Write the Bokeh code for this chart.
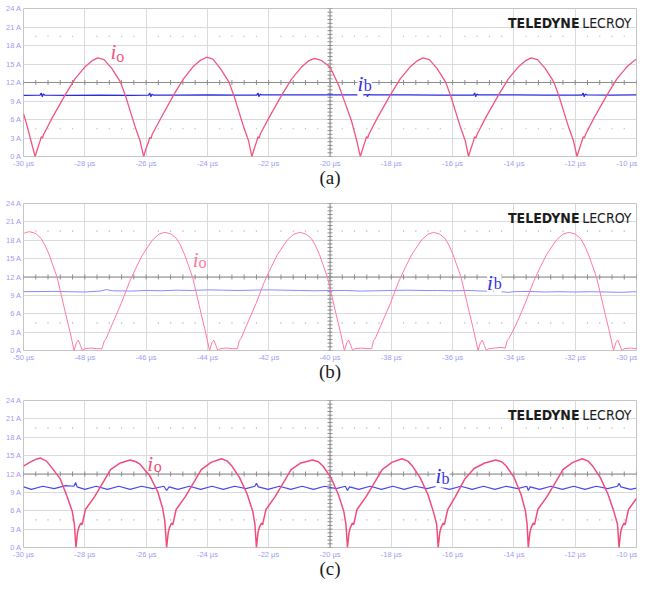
import numpy as np
from bokeh.plotting import figure
from bokeh.models import Range1d, Span, Label, FixedTicker, PrintfTickFormatter
from bokeh.layouts import column
from bokeh.embed import file_html
from bokeh.resources import INLINE

# ---------------- data ----------------
Y_TICKS = [0, 3, 6, 9, 12, 15, 18, 21, 24]
A_X_TICKS = [-30, -28, -26, -24, -22, -20, -18, -16, -14, -12, -10]
B_X_TICKS = [-50, -48, -46, -44, -42, -40, -38, -36, -34, -32, -30]
C_X_TICKS = [-30, -28, -26, -24, -22, -20, -18, -16, -14, -12, -10]
CAPTIONS = ["(a)", "(b)", "(c)"]

# panel (a) output current i_o  (t in us, A)
a_io = [(-30.00, 6.95), (-29.90, 5.3), (-29.78, 3.0), (-29.62, 0.0),
        (-29.54, 1.3), (-29.46, 2.5), (-29.42, 3.2), (-29.38, 3.0), (-29.34, 3.6), (-29.06, 6.3), (-28.64, 10.0),
        (-28.32, 12.6), (-28.00, 14.5), (-27.77, 15.5), (-27.58, 16.0), (-27.37, 15.7), (-27.12, 14.3), (-26.84, 12.1),
        (-26.67, 9.8), (-26.52, 7.4), (-26.37, 5.0), (-26.20, 2.6), (-26.08, 0.0),
        (-26.00, 1.3), (-25.92, 2.4), (-25.88, 3.1), (-25.84, 2.9), (-25.80, 3.6), (-25.52, 6.2), (-25.10, 10.0),
        (-24.78, 12.6), (-24.46, 14.6), (-24.23, 15.6), (-24.03, 16.1), (-23.82, 15.8), (-23.58, 14.3), (-23.30, 12.1),
        (-23.13, 9.8), (-22.98, 7.4), (-22.83, 5.0), (-22.66, 2.6), (-22.55, 0.0),
        (-22.47, 1.3), (-22.39, 2.5), (-22.35, 3.2), (-22.31, 3.0), (-22.27, 3.7), (-21.99, 6.3), (-21.57, 10.0),
        (-21.25, 12.6), (-20.93, 14.5), (-20.70, 15.5), (-20.50, 15.9), (-20.29, 15.6), (-20.00, 14.5), (-19.72, 11.6),
        (-19.51, 8.7), (-19.30, 5.8), (-19.13, 2.6), (-19.01, 0.0),
        (-18.93, 1.3), (-18.85, 2.5), (-18.81, 3.2), (-18.77, 3.0), (-18.73, 3.6), (-18.45, 6.3), (-18.03, 10.0),
        (-17.71, 12.6), (-17.39, 14.5), (-17.16, 15.5), (-16.97, 16.0), (-16.76, 15.7), (-16.51, 14.3), (-16.23, 12.1),
        (-16.06, 9.8), (-15.91, 7.4), (-15.76, 5.0), (-15.59, 2.6), (-15.48, 0.0),
        (-15.40, 1.3), (-15.32, 2.5), (-15.28, 3.2), (-15.24, 3.0), (-15.20, 3.6), (-14.92, 6.3), (-14.50, 10.0),
        (-14.18, 12.6), (-13.86, 14.5), (-13.63, 15.5), (-13.44, 16.0), (-13.23, 15.7), (-12.98, 14.3), (-12.70, 12.1),
        (-12.53, 9.8), (-12.38, 7.4), (-12.23, 5.0), (-12.06, 2.6), (-11.94, 0.0),
        (-11.86, 1.3), (-11.78, 2.5), (-11.74, 3.2), (-11.70, 3.0), (-11.66, 3.6), (-11.38, 6.3), (-10.96, 10.0),
        (-10.64, 12.6), (-10.32, 14.5), (-10.09, 15.5), (-10.00, 15.8)]

# panel (a) input current i_b
a_ib = [(-30.00, 9.9), (-29.46, 9.95), (-29.42, 10.3), (-29.39, 9.7), (-29.35, 10.15), (-29.30, 9.95),
        (-28.50, 9.9), (-27.50, 9.95), (-26.50, 9.9), (-25.92, 9.95), (-25.88, 10.3), (-25.85, 9.7), (-25.81, 10.1),
        (-25.76, 9.95), (-25.00, 9.95), (-24.00, 10.0), (-23.00, 9.95), (-22.39, 9.95), (-22.35, 10.3), (-22.32, 9.7),
        (-22.28, 10.1), (-22.23, 10.0), (-21.00, 10.0), (-20.00, 10.0), (-18.85, 10.0), (-18.81, 10.3), (-18.78, 9.7),
        (-18.74, 10.1), (-18.69, 10.0), (-17.50, 10.0), (-16.50, 9.95), (-15.32, 9.95), (-15.28, 10.3), (-15.25, 9.7),
        (-15.21, 10.1), (-15.16, 10.0), (-14.00, 10.0), (-13.00, 9.95), (-11.78, 9.95), (-11.74, 10.3), (-11.71, 9.7),
        (-11.67, 10.1), (-11.62, 10.0), (-10.80, 9.95), (-10.00, 10.0)]

# panel (b) output current i_o
b_io = [(-50.00, 19.0), (-49.95, 19.25), (-49.80, 19.4), (-49.60, 19.1), (-49.43, 18.3), (-49.30, 17.2), (-49.16, 15.6),
        (-48.90, 11.9), (-48.63, 6.1), (-48.48, 3.0), (-48.35, 0.0), (-48.27, 1.3), (-48.21, 1.7), (-48.14, 0.8),
        (-48.08, 0.0), (-48.00, 0.3), (-47.80, 0.4), (-47.60, 0.3), (-47.44, 0.3),
        (-47.36, 1.6), (-47.30, 2.0), (-47.13, 4.0), (-46.81, 7.7), (-46.55, 11.1), (-46.33, 13.5), (-46.12, 15.6),
        (-45.80, 18.0), (-45.58, 19.0), (-45.38, 19.3), (-45.18, 19.0), (-45.01, 18.3), (-44.88, 17.2), (-44.74, 15.6),
        (-44.48, 11.9), (-44.21, 6.1), (-44.06, 3.0), (-43.93, 0.0), (-43.85, 1.3), (-43.79, 1.7), (-43.72, 0.8),
        (-43.66, 0.0), (-43.58, 0.3), (-43.38, 0.4), (-43.18, 0.3), (-43.02, 0.3),
        (-42.96, 1.6), (-42.90, 2.0), (-42.73, 4.0), (-42.41, 7.7), (-42.15, 11.1), (-41.93, 13.5), (-41.72, 15.6),
        (-41.40, 18.0), (-41.18, 19.0), (-40.98, 19.3), (-40.78, 19.0), (-40.61, 18.3), (-40.48, 17.2), (-40.34, 15.6),
        (-40.08, 11.9), (-39.81, 6.1), (-39.66, 3.0), (-39.53, 0.0), (-39.45, 1.3), (-39.39, 1.7), (-39.32, 0.8),
        (-39.26, 0.0), (-39.18, 0.3), (-38.98, 0.4), (-38.78, 0.3), (-38.64, 0.3),
        (-38.58, 1.6), (-38.52, 2.0), (-38.35, 4.0), (-38.03, 7.7), (-37.77, 11.1), (-37.55, 13.5), (-37.34, 15.6),
        (-37.02, 18.0), (-36.80, 19.0), (-36.62, 19.3), (-36.42, 19.0), (-36.25, 18.3), (-36.12, 17.2), (-35.98, 15.6),
        (-35.72, 11.9), (-35.45, 6.1), (-35.30, 3.0), (-35.17, 0.0), (-35.09, 1.3), (-35.03, 1.7), (-34.96, 0.8),
        (-34.90, 0.0), (-34.82, 0.3), (-34.62, 0.4), (-34.42, 0.5), (-34.28, 0.4),
        (-34.22, 1.6), (-34.16, 2.0), (-33.95, 4.0), (-33.63, 7.7), (-33.37, 11.1), (-33.15, 13.5), (-32.94, 15.6),
        (-32.62, 18.0), (-32.40, 19.0), (-32.20, 19.3), (-32.00, 19.0), (-31.83, 18.3), (-31.70, 17.2), (-31.56, 15.6),
        (-31.30, 11.9), (-31.03, 6.1), (-30.88, 3.0), (-30.75, 0.0), (-30.67, 1.3), (-30.61, 1.7), (-30.54, 0.8),
        (-30.48, 0.0), (-30.40, 0.3), (-30.20, 0.4), (-30.00, 0.3)]

# panel (b) input current i_b
b_ib = [(-50.0, 9.6), (-49.0, 9.65), (-48.5, 9.6), (-48.0, 9.55), (-47.5, 9.7), (-47.3, 9.95), (-47.1, 9.75),
        (-46.5, 9.7), (-46.0, 9.8), (-45.5, 9.75), (-45.0, 9.85), (-44.5, 9.8), (-44.0, 9.9), (-43.5, 9.85),
        (-43.0, 9.8), (-42.5, 9.85), (-42.0, 9.9), (-41.5, 9.85), (-41.0, 9.8), (-40.5, 9.75), (-40.0, 9.8),
        (-39.5, 9.8), (-39.0, 9.7), (-38.5, 9.75), (-38.0, 9.8), (-37.5, 9.85), (-37.0, 9.8), (-36.5, 9.8),
        (-36.0, 9.75), (-35.5, 9.8), (-35.0, 9.7), (-34.5, 9.65), (-34.2, 9.5), (-34.0, 9.6), (-33.5, 9.65),
        (-33.0, 9.55), (-32.5, 9.6), (-32.0, 9.55), (-31.5, 9.6), (-31.0, 9.55), (-30.5, 9.5), (-30.0, 9.6)]

# panel (c) output current i_o
c_io = [(-30.00, 13.3), (-29.80, 13.9), (-29.60, 14.4), (-29.44, 14.6), (-29.25, 14.1), (-29.07, 13.0), (-28.80, 11.2),
        (-28.59, 8.5), (-28.41, 5.9), (-28.34, 3.8), (-28.29, 0.0),
        (-28.24, 2.4), (-28.20, 3.2), (-28.13, 4.0), (-28.09, 3.7), (-27.98, 6.2), (-27.68, 8.3), (-27.37, 10.9),
        (-27.16, 12.7), (-26.84, 13.8), (-26.52, 14.3), (-26.33, 14.0), (-26.20, 13.6), (-25.88, 11.7), (-25.62, 9.1),
        (-25.46, 6.4), (-25.39, 4.3), (-25.33, 0.0),
        (-25.28, 2.4), (-25.24, 3.2), (-25.17, 4.0), (-25.13, 3.7), (-25.02, 6.2), (-24.72, 8.3), (-24.41, 10.9),
        (-24.20, 12.7), (-23.88, 13.9), (-23.54, 14.5), (-23.35, 14.1), (-23.20, 13.3), (-22.95, 11.4), (-22.70, 8.7),
        (-22.52, 5.9), (-22.45, 3.8), (-22.40, 0.0),
        (-22.35, 2.4), (-22.31, 3.2), (-22.24, 4.0), (-22.20, 3.7), (-22.09, 6.2), (-21.79, 8.3), (-21.48, 10.9),
        (-21.27, 12.7), (-20.95, 13.8), (-20.57, 14.3), (-20.38, 14.0), (-20.23, 13.3), (-19.98, 11.5), (-19.73, 8.7),
        (-19.55, 5.9), (-19.48, 3.8), (-19.43, 0.0),
        (-19.38, 2.4), (-19.34, 3.2), (-19.27, 4.0), (-19.23, 3.7), (-19.12, 6.2), (-18.82, 8.3), (-18.51, 10.9),
        (-18.30, 12.7), (-17.98, 13.9), (-17.65, 14.5), (-17.46, 14.1), (-17.31, 13.3), (-17.06, 11.4), (-16.81, 8.7),
        (-16.63, 5.9), (-16.52, 3.8), (-16.47, 0.0),
        (-16.42, 2.4), (-16.38, 3.2), (-16.31, 4.0), (-16.27, 3.7), (-16.16, 6.2), (-15.91, 8.3), (-15.60, 11.2),
        (-15.30, 12.9), (-14.95, 13.8), (-14.59, 14.3), (-14.40, 14.0), (-14.25, 13.3), (-14.00, 11.5), (-13.77, 8.7),
        (-13.62, 5.9), (-13.57, 3.8), (-13.53, 0.0),
        (-13.48, 2.4), (-13.44, 3.2), (-13.37, 4.0), (-13.33, 3.7), (-13.22, 6.2), (-12.92, 8.3), (-12.61, 10.9),
        (-12.40, 12.7), (-12.08, 13.9), (-11.77, 14.5), (-11.58, 14.1), (-11.43, 13.3), (-11.18, 11.4), (-10.93, 8.7),
        (-10.74, 5.9), (-10.62, 3.8), (-10.57, 0.0),
        (-10.52, 2.4), (-10.48, 3.2), (-10.41, 4.0), (-10.37, 3.7), (-10.26, 6.2), (-10.00, 8.0)]

# panel (c) input current i_b
c_ib = [(-30.00, 9.9), (-29.74, 9.5), (-29.37, 10.0), (-29.00, 9.6), (-28.63, 10.1), (-28.35, 10.0), (-28.30, 10.6),
        (-28.25, 9.9), (-28.00, 9.5), (-27.63, 10.0), (-27.26, 9.5), (-26.89, 10.0), (-26.52, 9.5), (-26.15, 10.0),
        (-25.78, 9.6), (-25.42, 10.0), (-25.33, 9.3), (-25.25, 9.9), (-24.96, 9.5), (-24.59, 10.0), (-24.22, 9.5),
        (-23.85, 10.0), (-23.48, 9.5), (-23.11, 10.0), (-22.74, 9.6), (-22.45, 10.0), (-22.40, 10.5), (-22.34, 9.9),
        (-22.02, 9.5), (-21.65, 10.0), (-21.28, 9.5), (-20.91, 10.0), (-20.54, 9.5), (-20.17, 10.0), (-19.80, 9.6),
        (-19.50, 10.0), (-19.43, 9.3), (-19.36, 9.9), (-19.06, 9.5), (-18.69, 10.0), (-18.32, 9.5), (-17.95, 10.0),
        (-17.58, 9.5), (-17.21, 10.0), (-16.84, 9.6), (-16.52, 10.0), (-16.47, 10.5), (-16.41, 9.9), (-16.10, 9.5),
        (-15.73, 10.0), (-15.36, 9.5), (-14.99, 10.0), (-14.62, 9.5), (-14.25, 10.0), (-13.88, 9.6), (-13.58, 10.0),
        (-13.53, 9.3), (-13.47, 9.9), (-13.16, 9.5), (-12.79, 10.0), (-12.42, 9.5), (-12.05, 10.0), (-11.68, 9.5),
        (-11.31, 10.0), (-10.94, 9.6), (-10.62, 10.0), (-10.57, 10.5), (-10.51, 9.9), (-10.20, 9.5), (-10.00, 9.7)]

# label anchor positions (data coordinates of each panel)
IO_LABEL_POS = [(-27.07, 16.9, -26.97, 16.2), (-44.38, 14.7, -44.29, 14.3), (-25.87, 13.6, -25.75, 13.3)]
IB_LABEL_POS = [(-19.01, 11.7, -18.90, 11.5), (-34.78, 11.1, -34.66, 10.9), (-16.46, 11.7, -16.36, 11.2)]

GRID = "#dadada"
CENTER = "#8c8c8c"
TICK_COL = "#9d9df2"
FONT = "Liberation Sans"
LOGO_FONT = "Liberation Sans Narrow, DejaVu Sans Condensed, Liberation Sans, sans-serif"


def panel(ticks, io, ib, io_col, io_w, ib_col, ib_w, caption, io_pos, ib_pos, top, fh, bottom):
    x0, x1 = ticks[0], ticks[-1]
    xc = (x0 + x1) / 2
    p = figure(frame_width=613, frame_height=fh, x_range=Range1d(x0, x1), y_range=Range1d(0, 24),
               output_backend="svg", toolbar_location=None,
               min_border_left=23, min_border_right=1, min_border_top=top, min_border_bottom=bottom)
    p.background_fill_color = "white"
    p.border_fill_color = "white"
    p.outline_line_color = "#c4c4c4"

    # axes
    p.xaxis.ticker = FixedTicker(ticks=ticks)
    p.yaxis.ticker = FixedTicker(ticks=Y_TICKS)
    p.xaxis.formatter = PrintfTickFormatter(format="%d \u00b5s")
    p.yaxis.formatter = PrintfTickFormatter(format="%d A")
    for ax in (p.xaxis, p.yaxis):
        ax.axis_line_color = None
        ax.major_tick_line_color = None
        ax.minor_tick_line_color = None
        ax.major_tick_out = 0
        ax.major_tick_in = 0
        ax.minor_tick_out = 0
        ax.minor_tick_in = 0
        ax.major_label_text_font = FONT
        ax.major_label_text_font_size = "7.5px"
        ax.major_label_text_color = TICK_COL
        ax.major_label_standoff = 2
    p.xaxis.axis_label = caption
    p.xaxis.axis_label_text_font = "Liberation Serif"
    p.xaxis.axis_label_text_font_style = "normal"
    p.xaxis.axis_label_text_font_size = "19px"
    p.xaxis.axis_label_text_color = "#1a1a1a"
    p.xaxis.axis_label_standoff = -4

    # graticule
    p.xgrid.ticker = FixedTicker(ticks=ticks)
    p.ygrid.ticker = FixedTicker(ticks=Y_TICKS)
    p.grid.grid_line_color = GRID
    p.grid.grid_line_width = 1

    p.add_layout(Span(location=12, dimension="width", line_color=CENTER, line_width=1, level="underlay"))
    p.add_layout(Span(location=xc, dimension="height", line_color=CENTER, line_width=1, level="underlay"))

    sub = np.arange(x0, x1 + 1e-6, 0.4)
    p.scatter(sub, np.full(len(sub), 12.0), marker="dash", angle=np.pi / 2, size=5, line_color=CENTER)
    ysub = np.arange(0, 24 + 1e-6, 0.6)
    p.scatter(np.full(len(ysub), xc), ysub, marker="dash", size=5, line_color=CENTER)
    dots = np.array([t for t in sub if abs((t - x0) / 2 - round((t - x0) / 2)) > 1e-3])
    for lev in (4.5, 19.5):
        p.scatter(dots, np.full(len(dots), lev), marker="square", size=1.2, fill_color="#b2b2b2",
                  line_color=None)

    # traces
    ib_t, ib_v = zip(*ib)
    io_t, io_v = zip(*io)
    p.line(list(ib_t), list(ib_v), line_color=ib_col, line_width=ib_w)
    p.line(list(io_t), list(io_v), line_color=io_col, line_width=io_w)

    # logo
    p.add_layout(Label(x=x1, y=21.6, x_offset=-5, text="LECROY", text_align="right", text_baseline="alphabetic",
                       text_font=LOGO_FONT, text_font_size="14px", text_color="#1c1c1c"))
    p.add_layout(Label(x=x1, y=21.6, x_offset=-57, text="TELEDYNE", text_align="right",
                       text_baseline="alphabetic", text_font=LOGO_FONT, text_font_style="bold",
                       text_font_size="14px", text_color="#1c1c1c"))

    # trace names
    p.add_layout(Label(x=io_pos[0], y=io_pos[1], text="i", text_align="center", text_baseline="alphabetic",
                       text_font="Liberation Serif", text_font_style="italic", text_font_size="21px",
                       text_color=io_col))
    p.add_layout(Label(x=io_pos[2], y=io_pos[3], text="o", text_align="left", text_baseline="alphabetic",
                       text_font="Liberation Serif", text_font_size="16px", text_color=io_col))
    p.add_layout(Label(x=ib_pos[0], y=ib_pos[1], text="i", text_align="center", text_baseline="alphabetic",
                       text_font="Liberation Serif", text_font_style="italic", text_font_size="21px",
                       text_color="#3030e6", background_fill_color="white"))
    p.add_layout(Label(x=ib_pos[2], y=ib_pos[3], text="b", text_align="left", text_baseline="alphabetic",
                       text_font="Liberation Serif", text_font_size="16px", text_color="#3030e6",
                       background_fill_color="white"))
    return p


pa = panel(A_X_TICKS, a_io, a_ib, "#f2557f", 1.3, "#2b2bde", 1.3, CAPTIONS[0], IO_LABEL_POS[0], IB_LABEL_POS[0],
           8, 148, 39)
pb = panel(B_X_TICKS, b_io, b_ib, "#ff7aa0", 1.0, "#8a8aff", 1.0, CAPTIONS[1], IO_LABEL_POS[1], IB_LABEL_POS[1],
           8, 147, 42)
pc = panel(C_X_TICKS, c_io, c_ib, "#f04d7c", 1.5, "#4848f0", 1.2, CAPTIONS[2], IO_LABEL_POS[2], IB_LABEL_POS[2],
           8, 147, 30)

layout = column(pa, pb, pc, spacing=0)
open("out.html", "w").write(file_html(layout, INLINE))
